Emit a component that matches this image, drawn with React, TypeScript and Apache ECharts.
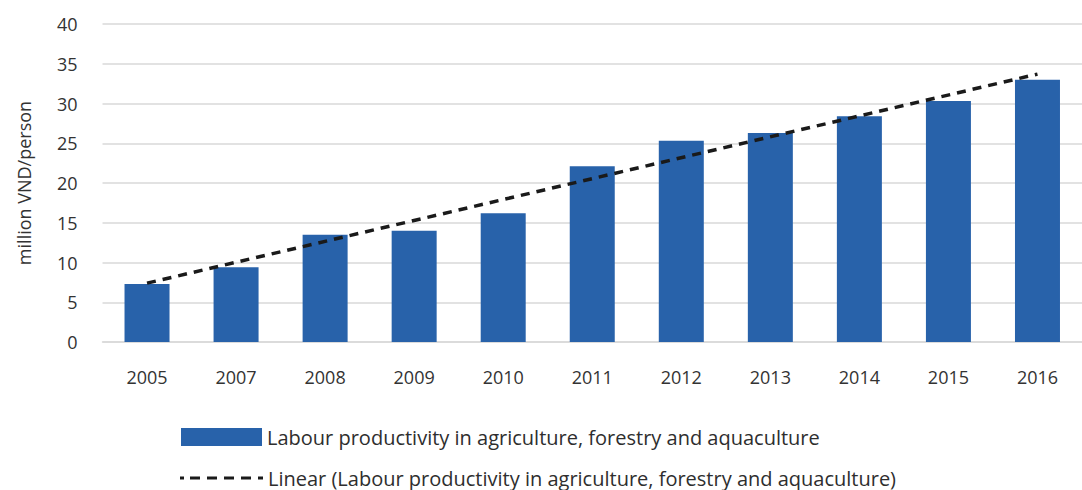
import React, { useEffect, useRef } from "react";
import * as echarts from "echarts";

const categories = ["2005", "2007", "2008", "2009", "2010", "2011", "2012", "2013", "2014", "2015", "2016"];
const productivity = [7.3, 9.4, 13.5, 14.0, 16.2, 22.1, 25.3, 26.3, 28.4, 30.3, 33.0];
const trendStart = 7.4;
const trendEnd = 33.7;
const barName = "Labour productivity in agriculture, forestry and aquaculture";
const lineName = "Linear (Labour productivity in agriculture, forestry and aquaculture)";
const yTicks = [0, 5, 10, 15, 20, 25, 30, 35, 40];

const dashIcon =
  "path://M0,0h4v3h-4z M10,0h10v3h-10z M27,0h10v3h-10z M44,0h10v3h-10z M61,0h10v3h-10z M78,0h5v3h-5z";

export default function App() {
  const ref = useRef<HTMLDivElement>(null);
  useEffect(() => {
    document.body.style.margin = "0";
    const chart = echarts.init(ref.current!, null, { renderer: "svg" });
    const font = "'Open Sans', 'Noto Sans', sans-serif";
    const legendText = { fontSize: 20, color: "#2e2e2e", fontFamily: font };
    chart.setOption({
      animation: false,
      textStyle: { fontFamily: font },
      grid: { left: 102.5, right: -10.5, top: 24, bottom: 148, containLabel: false },
      legend: [
        {
          data: [{ name: barName, icon: "rect" }],
          left: 176,
          top: 422,
          itemWidth: 81,
          itemHeight: 18,
          itemGap: 8,
          textStyle: legendText,
        },
        {
          data: [{ name: lineName, icon: dashIcon }],
          left: 175,
          top: 463,
          itemWidth: 83,
          itemHeight: 4,
          textStyle: legendText,
        },
      ],
      xAxis: {
        type: "category",
        data: categories,
        boundaryGap: true,
        axisLine: { show: true, lineStyle: { color: "#d9d9d9", width: 1.5 } },
        axisTick: { show: false },
        axisLabel: { fontSize: 18, color: "#333", margin: 26, fontFamily: font },
      },
      yAxis: {
        type: "value",
        min: yTicks[0],
        max: yTicks[yTicks.length - 1],
        interval: 5,
        name: "million VND/person",
        nameLocation: "middle",
        nameGap: 70,
        nameTextStyle: { fontSize: 18, color: "#333", fontFamily: font },
        axisLine: { show: false },
        axisTick: { show: false },
        axisLabel: { fontSize: 18, color: "#333", margin: 25, fontFamily: font },
        splitLine: { lineStyle: { color: "#d9d9d9", width: 1.5 } },
      },
      series: [
        {
          name: barName,
          type: "bar",
          data: productivity,
          barWidth: 45,
          itemStyle: { color: "#2862AA" },
        },
        {
          name: lineName,
          type: "line",
          data: [
            [categories[0], trendStart],
            [categories[categories.length - 1], trendEnd],
          ],
          symbol: "none",
          lineStyle: { color: "#1a1a1a", width: 3.5, type: [9, 7] },
          itemStyle: { color: "#1a1a1a" },
          z: 5,
        },
      ],
    });
    return () => chart.dispose();
  }, []);
  return <div ref={ref} style={{ width: 1082, height: 490 }} />;
}
